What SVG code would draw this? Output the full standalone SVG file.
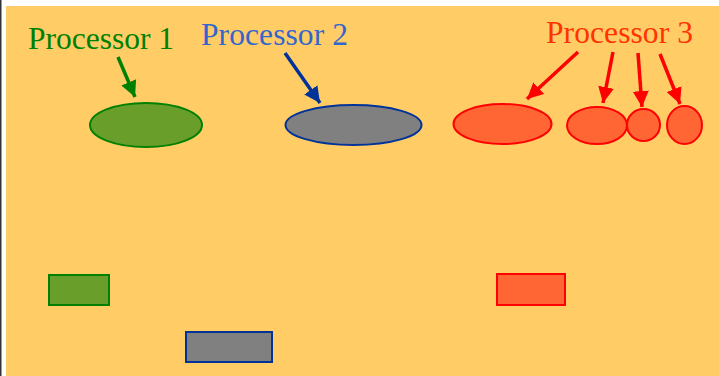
<svg xmlns="http://www.w3.org/2000/svg" width="719" height="376" viewBox="0 0 719 376">
<style>
.lbl{font-family:"Liberation Serif","Times New Roman",serif;font-size:31.5px}
.g{fill:#6a9e2a;stroke:#008000;stroke-width:2}
.b{fill:#808080;stroke:#003399;stroke-width:2}
.r{fill:#ff6633;stroke:#ff0000;stroke-width:2}
.ag{stroke:#008000;stroke-width:3.5;fill:none}
.ab{stroke:#003399;stroke-width:3.5;fill:none}
.ar{stroke:#ff0000;stroke-width:3.5;fill:none}
</style>
<defs>
<marker id="mg" markerUnits="userSpaceOnUse" markerWidth="18" markerHeight="18" refX="16" refY="8" orient="auto" viewBox="0 0 18 16"><path d="M0,0 L16,8 L0,16 z" fill="#008000"/></marker>
<marker id="mb" markerUnits="userSpaceOnUse" markerWidth="18" markerHeight="18" refX="16" refY="8" orient="auto" viewBox="0 0 18 16"><path d="M0,0 L16,8 L0,16 z" fill="#003399"/></marker>
<marker id="mr" markerUnits="userSpaceOnUse" markerWidth="18" markerHeight="18" refX="16" refY="8" orient="auto" viewBox="0 0 18 16"><path d="M0,0 L16,8 L0,16 z" fill="#ff0000"/></marker>
</defs>
<rect x="0" y="0" width="719" height="376" fill="#ffffff"/>
<rect x="0" y="0" width="1.5" height="376" fill="#333333"/>
<rect x="6" y="6" width="713" height="370" fill="#ffcc66"/>

<g id="label1"><text class="lbl" x="28" y="49" fill="#008000" textLength="146">Processor 1</text></g>
<g id="label2"><text class="lbl" x="201" y="45" fill="#3366cc" textLength="147">Processor 2</text></g>
<g id="label3"><text class="lbl" x="546" y="43" fill="#ff3300" textLength="147">Processor 3</text></g>

<g id="p1-ellipse"><ellipse class="g" cx="146" cy="125" rx="56" ry="22"/></g>
<g id="p2-ellipse"><ellipse class="b" cx="353.5" cy="125" rx="68" ry="20"/></g>
<g id="p3-ellipse-a"><ellipse class="r" cx="502.5" cy="124" rx="49" ry="20"/></g>
<g id="p3-ellipse-b"><ellipse class="r" cx="597" cy="125.5" rx="30" ry="18.5"/></g>
<g id="p3-ellipse-c"><ellipse class="r" cx="643.5" cy="125" rx="16.5" ry="16"/></g>
<g id="p3-ellipse-d"><ellipse class="r" cx="684.5" cy="125" rx="17.5" ry="19"/></g>

<g id="p1-rect"><rect class="g" x="49" y="275" width="60" height="30"/></g>
<g id="p2-rect"><rect class="b" x="186" y="332" width="86" height="30"/></g>
<g id="p3-rect"><rect class="r" x="497" y="274" width="68" height="31"/></g>

<g id="connectors">
<line class="ag" x1="118" y1="57" x2="135" y2="97" marker-end="url(#mg)"/>
<line class="ab" x1="285" y1="53" x2="320" y2="103" marker-end="url(#mb)"/>
<line class="ar" x1="578" y1="52" x2="527" y2="99" marker-end="url(#mr)"/>
<line class="ar" x1="613" y1="52" x2="603" y2="103" marker-end="url(#mr)"/>
<line class="ar" x1="638" y1="53" x2="642" y2="107" marker-end="url(#mr)"/>
<line class="ar" x1="660" y1="54" x2="680" y2="104" marker-end="url(#mr)"/>
</g>
</svg>
